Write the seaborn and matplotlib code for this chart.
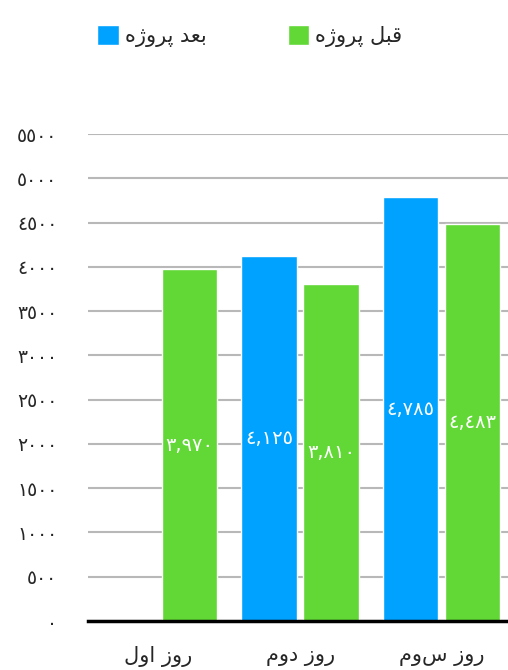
import numpy as np
import pandas as pd
import matplotlib
matplotlib.use("Agg")
import matplotlib.pyplot as plt
from matplotlib.ticker import FuncFormatter
import seaborn as sns

# Persian text pre-shaped (presentation forms, visual left-to-right order)
AFTER = "\uFEE9\uFB8A\uFEED\uFEAE\uFB58 \uFEAA\uFECC\uFE91"    # بعد پروژه
BEFORE = "\uFEE9\uFB8A\uFEED\uFEAE\uFB58 \uFEDE\uFE92\uFED7"   # قبل پروژه
days = [
    "\uFEDD\uFEED\uFE8D \uFEAF\uFEED\uFEAD",   # روز اول
    "\uFEE1\uFEED\uFEA9 \uFEAF\uFEED\uFEAD",   # روز دوم
    "\uFEE1\uFEED\uFEB1 \uFEAF\uFEED\uFEAD",   # روز سوم
]
after_vals = [np.nan, 4125, 4785]
before_vals = [3970, 3810, 4483]
yticks = list(range(0, 5501, 500))

BLUE = "#00A2FF"
GREEN = "#61D836"


def arabic_digits(s):
    return s.translate(str.maketrans("0123456789", "\u0660\u0661\u0662\u0663\u0664\u0665\u0666\u0667\u0668\u0669"))


df = pd.DataFrame({
    "day": days * 2,
    "value": after_vals + before_vals,
    "phase": [AFTER] * 3 + [BEFORE] * 3,
})

sns.set_style("white")
plt.rcParams["font.family"] = ["DejaVu Sans"]

fig = plt.figure(figsize=(5.08, 6.70), dpi=100)
ax = fig.add_axes([0.173, 0.0731, 0.827, 0.7269])

sns.barplot(data=df, x="day", y="value", hue="phase", hue_order=[AFTER, BEFORE],
            order=days, palette=[BLUE, GREEN], width=0.875, gap=0.1,
            saturation=1, ax=ax)

for cont in ax.containers:
    ax.bar_label(cont, fmt=lambda v: arabic_digits(f"{v:,.0f}"), label_type="center",
                 color="white", fontsize=14)

ax.set_ylim(0, 5500)
ax.set_xlim(-0.5, 2.47)
ax.set_yticks(yticks)
ax.yaxis.set_major_formatter(FuncFormatter(lambda v, p: arabic_digits(f"{int(v)}")))
ax.grid(axis="y", color="#b8b8b8", linewidth=1.5)
ax.set_axisbelow(True)
ax.tick_params(axis="y", length=0, pad=22, labelsize=13.5)
ax.tick_params(axis="x", length=0, pad=18, labelsize=15)
ax.set_xlabel("")
ax.set_ylabel("")
for s in ["top", "right", "left"]:
    ax.spines[s].set_visible(False)
ax.spines["bottom"].set_color("black")
ax.spines["bottom"].set_linewidth(2.5)

sns.move_legend(ax, "upper left", bbox_to_anchor=(0.155, 0.99), bbox_transform=fig.transFigure,
                ncol=2, frameon=False, title=None, fontsize=15, handlelength=1.05,
                handleheight=1.05, handletextpad=0.25, columnspacing=3.9)

fig.savefig("out.png", dpi=100)
